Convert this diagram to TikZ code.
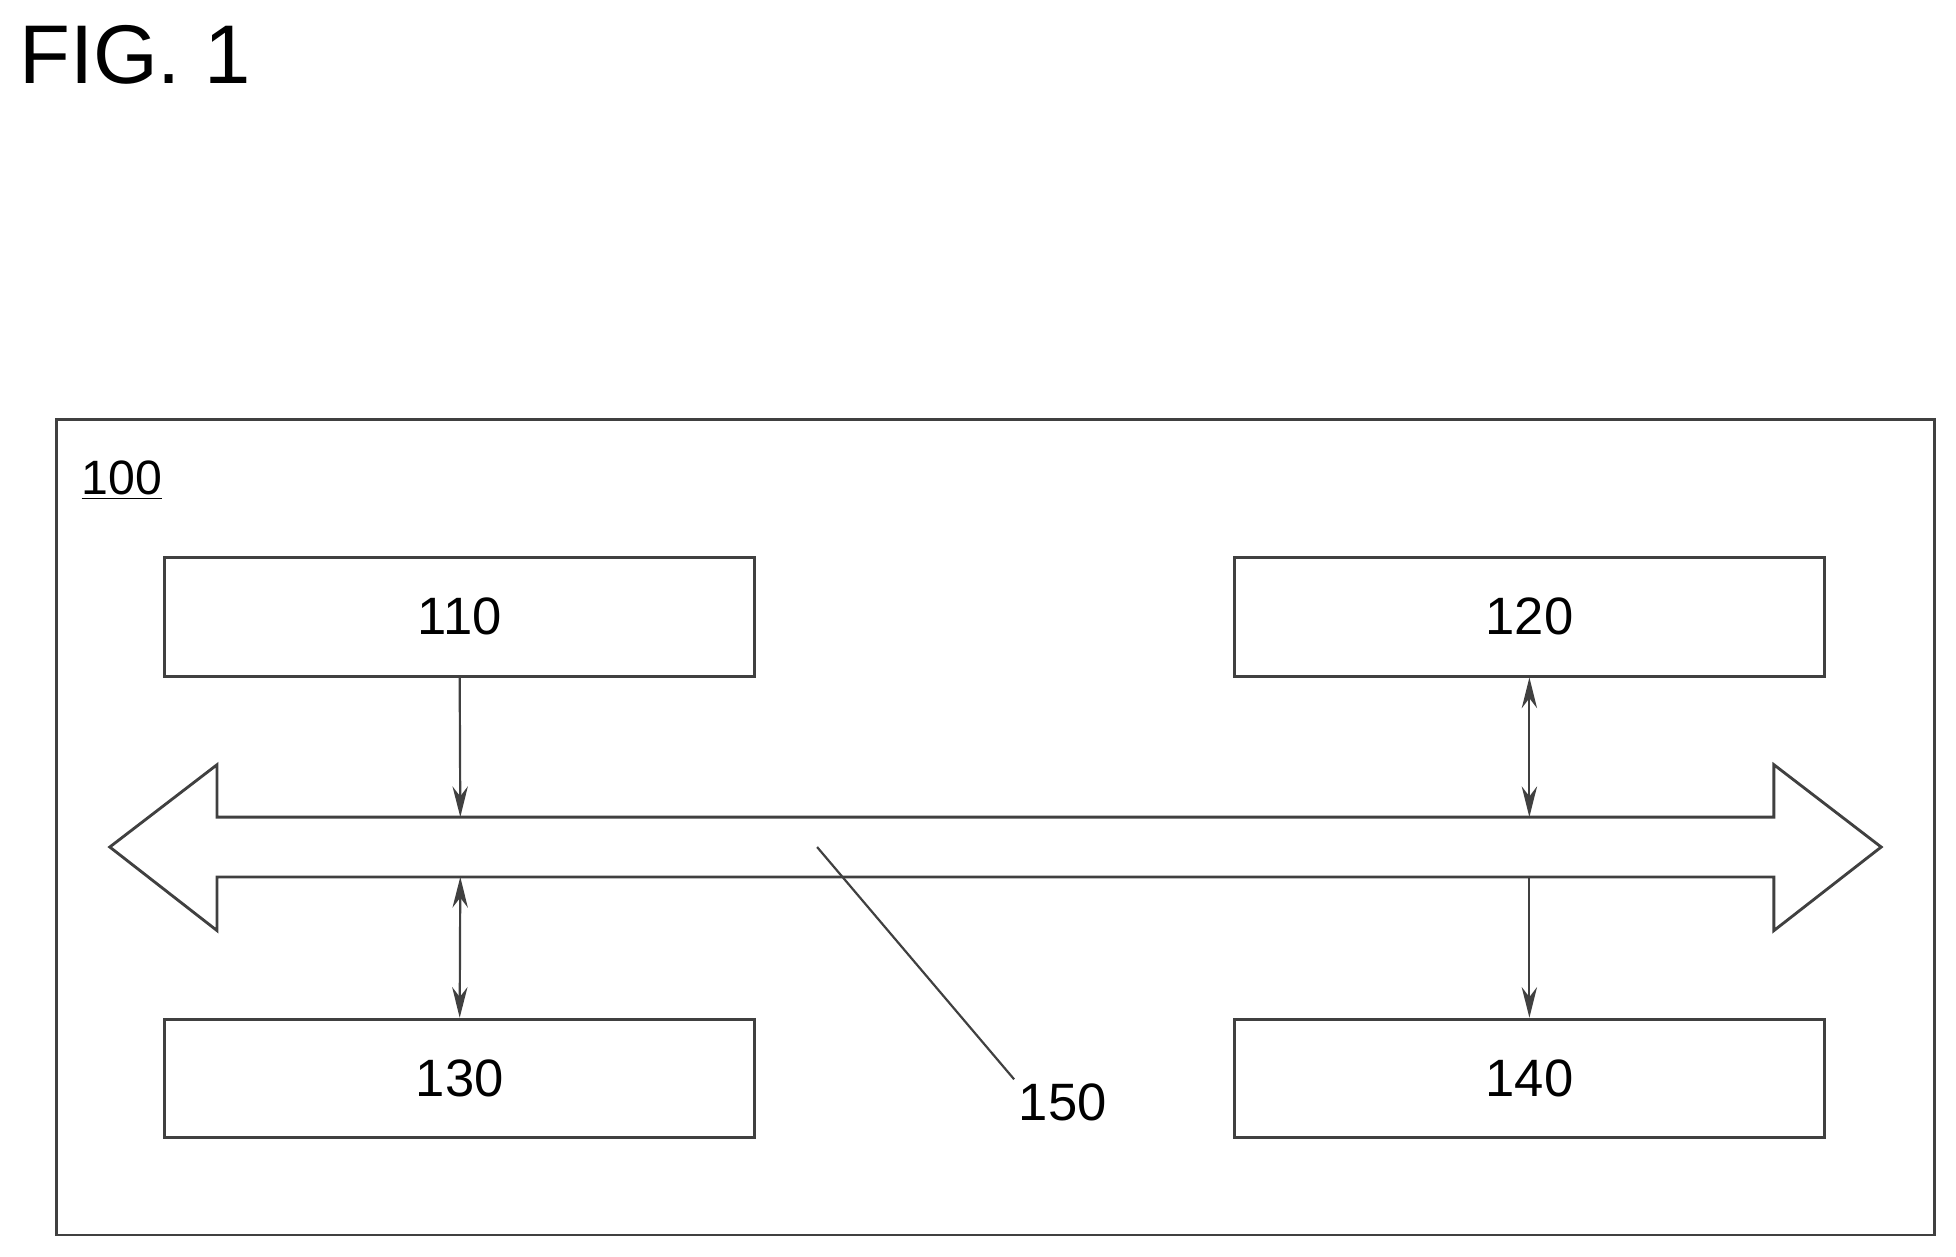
\documentclass[tikz,border=0pt]{standalone}
\usepackage{fontspec}
\setmainfont{Liberation Sans}
\usetikzlibrary{arrows.meta}
\begin{document}
\begin{tikzpicture}[x=0.02cm,y=-0.02cm,
  ln/.style={draw=black!75,line width=1.3pt},
  box/.style={ln,minimum width=9.46cm,minimum height=1.9cm,inner sep=0pt,font=\fontsize{24}{28}\selectfont},
  conn/.style={draw=black!75,line width=1pt,-{Stealth[length=14pt,width=7pt]}},
  dconn/.style={draw=black!75,line width=1pt,{Stealth[length=14pt,width=7pt]}-{Stealth[length=14pt,width=7pt]}}]
\useasboundingbox (0,0) rectangle (1568,1007);
\node[anchor=north west,inner sep=0pt,font=\fontsize{38}{44}\selectfont] (fig) at (15,20) {FIG. 1};
\draw[ln] (45,336) rectangle (1551,990);
\node[anchor=west,inner sep=0pt,font=\fontsize{22}{26}\selectfont] (l100) at (65,385) {\underline{100}};
\node[box] (b110) at (368.5,494.5) {110};
\node[box] (b120) at (1226,494.5) {120};
\node[box] (b130) at (368.5,864.5) {130};
\node[box] (b140) at (1226,864.5) {140};
\draw[ln,line join=miter] (88,679) -- (174,613) -- (174,655) -- (1422,655) -- (1422,613) -- (1508,679) -- (1422,746) -- (1422,703) -- (174,703) -- (174,746) -- cycle;
\coordinate (t1) at (369,655);
\coordinate (t2) at (1226,655);
\coordinate (d1) at (369,703);
\coordinate (d2) at (1226,703);
\draw[conn] (b110.south) -- (t1);
\draw[dconn] (b120.south) -- (t2);
\draw[dconn] (d1) -- (b130.north);
\draw[conn] (d2) -- (b140.north);
\coordinate (p150) at (655,679);
\node[font=\fontsize{24}{28}\selectfont,inner sep=2pt] (l150) at (852,884) {150};
\draw[draw=black!75,line width=1pt] (p150) -- (l150.north west);
\end{tikzpicture}
\end{document}
